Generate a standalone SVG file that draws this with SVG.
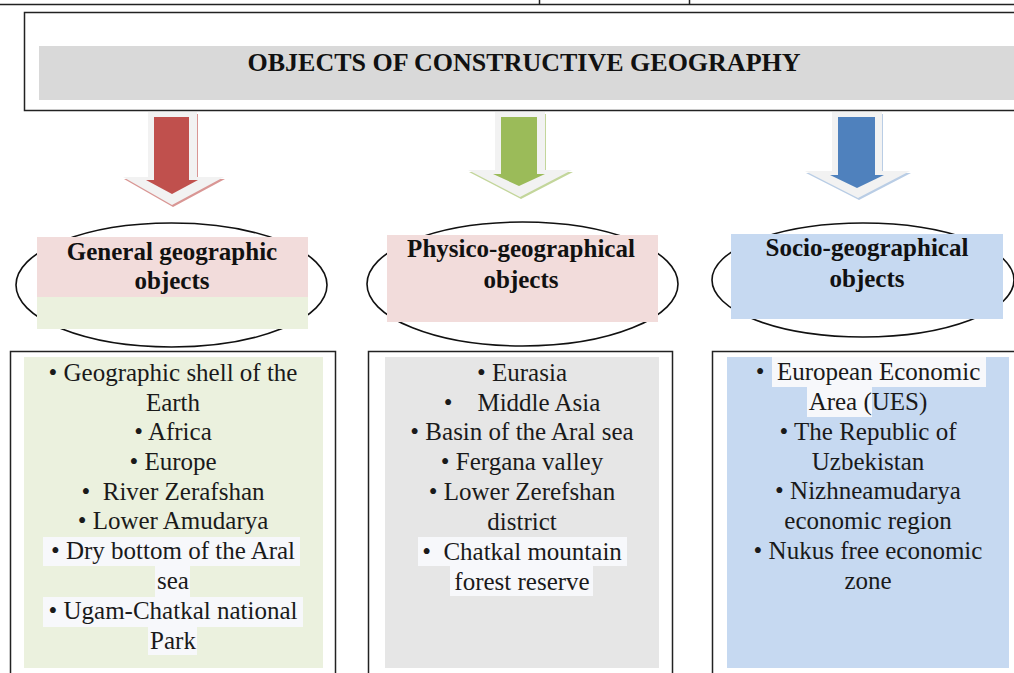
<svg xmlns="http://www.w3.org/2000/svg" width="1014" height="673" viewBox="0 0 1014 673">
<style>
.line{stroke:#222;stroke-width:1.5;fill:none}
.ell{fill:none;stroke:#111;stroke-width:1.6}
.hd{font-family:"Liberation Serif",serif;font-weight:bold;font-size:25px;fill:#111;text-anchor:middle}
.tt{font-family:"Liberation Serif",serif;font-weight:bold;font-size:26px;fill:#111;text-anchor:middle}
.bd{font-family:"Liberation Serif",serif;font-size:25px;fill:#1a1a1a;text-anchor:middle}
.hl{fill:#f7f8fb}
.aout{fill:#f2f2f2}
</style>
<rect width="1014" height="673" fill="#ffffff"/>
<g id="table-lines">
<line class="line" x1="0" y1="4.5" x2="1014" y2="4.5"/>
<line class="line" x1="539.5" y1="0" x2="539.5" y2="4.5"/>
<line class="line" x1="689.5" y1="0" x2="689.5" y2="4.5"/>
</g>
<g id="title">
<rect x="24.5" y="12.5" width="1000" height="98" fill="#ffffff" stroke="#222" stroke-width="1.5"/>
<rect x="39" y="46" width="980" height="54" fill="#d9d9d9"/>
<text class="tt" x="524" y="71">OBJECTS OF CONSTRUCTIVE GEOGRAPHY</text>
</g>
<g id="connectors">
<g id="arrow-red">
<polygon points="149,114 198,114 198,179 225,179 173,207 124,179 149,179" fill="#d99694"/>
<polygon class="aout" points="148,112 197,112 197,177 224,177 172,205 123,177 148,177"/>
<polygon points="154,117 189,117 189,180 198,180 172,194 146,180 154,180" fill="#c0504d"/>
</g>
<g id="arrow-green">
<polygon points="496,114 546,114 546,172 573,172 521,199 469,172 496,172" fill="#c3d69b"/>
<polygon class="aout" points="495,112 545,112 545,170 572,170 520,197 468,170 495,170"/>
<polygon points="501,117 537,117 537,174 545,174 519,186 493,174 501,174" fill="#9bbb59"/>
</g>
<g id="arrow-blue">
<polygon points="833,114 883,114 883,173 911,173 859,200 806,173 833,173" fill="#b9cde5"/>
<polygon class="aout" points="832,112 882,112 882,171 910,171 858,198 805,171 832,171"/>
<polygon points="838,117 875,117 875,175 884,175 857,188 830,175 838,175" fill="#4f81bd"/>
</g>
</g>
<g id="head-general">
<ellipse class="ell" cx="171.5" cy="285" rx="155.5" ry="62"/>
<rect x="37" y="237" width="271" height="60" fill="#f2dcdb"/>
<rect x="37" y="297" width="271" height="32" fill="#ebf1de"/>
<text class="hd" x="172" y="260">General geographic</text>
<text class="hd" x="172" y="289">objects</text>
</g>
<g id="head-physico">
<ellipse class="ell" cx="522.5" cy="284" rx="155.5" ry="62"/>
<rect x="387" y="235" width="271" height="87" fill="#f2dcdb"/>
<text class="hd" x="521" y="257">Physico-geographical</text>
<text class="hd" x="521" y="288">objects</text>
</g>
<g id="head-socio">
<ellipse class="ell" cx="863" cy="280" rx="151" ry="57"/>
<rect x="731" y="234" width="272" height="85" fill="#c6d9f1"/>
<text class="hd" x="867" y="256">Socio-geographical</text>
<text class="hd" x="867" y="287">objects</text>
</g>
<g id="list-general">
<rect x="10.5" y="351.5" width="325" height="330" fill="#ffffff" stroke="#222" stroke-width="1.5"/>
<rect x="24" y="357" width="299" height="311" fill="#ebf1de"/>
<rect class="hl" x="43" y="537" width="257" height="29"/>
<rect class="hl" x="155" y="566" width="35" height="31"/>
<rect class="hl" x="43" y="597" width="260" height="30"/>
<rect class="hl" x="148" y="627" width="49" height="28"/>
<text class="bd" x="173" y="381">• Geographic shell of the</text>
<text class="bd" x="173" y="411">Earth</text>
<text class="bd" x="173" y="440">• Africa</text>
<text class="bd" x="173" y="470">• Europe</text>
<text class="bd" x="173" y="500" xml:space="preserve">•  River Zerafshan</text>
<text class="bd" x="173" y="529">• Lower Amudarya</text>
<text class="bd" x="173" y="559">• Dry bottom of the Aral</text>
<text class="bd" x="173" y="589">sea</text>
<text class="bd" x="173" y="619">• Ugam-Chatkal national</text>
<text class="bd" x="173" y="649">Park</text>
</g>
<g id="list-physico">
<rect x="368.5" y="351.5" width="304" height="330" fill="#ffffff" stroke="#222" stroke-width="1.5"/>
<rect x="385" y="357" width="274" height="311" fill="#e6e6e6"/>
<rect class="hl" x="418" y="537" width="209" height="29"/>
<rect class="hl" x="450" y="566" width="143" height="30"/>
<text class="bd" x="522" y="381">• Eurasia</text>
<text class="bd" x="522" y="411" xml:space="preserve">•    Middle Asia</text>
<text class="bd" x="522" y="440">• Basin of the Aral sea</text>
<text class="bd" x="522" y="470">• Fergana valley</text>
<text class="bd" x="522" y="500">• Lower Zerefshan</text>
<text class="bd" x="522" y="530">district</text>
<text class="bd" x="522" y="560" xml:space="preserve">•  Chatkal mountain</text>
<text class="bd" x="522" y="590">forest reserve</text>
</g>
<g id="list-socio">
<rect x="712.5" y="351.5" width="320" height="330" fill="#ffffff" stroke="#222" stroke-width="1.5"/>
<rect x="727" y="357" width="282" height="311" fill="#c6d9f1"/>
<rect class="hl" x="772" y="357" width="214" height="30"/>
<rect class="hl" x="807" y="387" width="65" height="30"/>
<text class="bd" x="868" y="380" xml:space="preserve">•  European Economic</text>
<text class="bd" x="868" y="410">Area (UES)</text>
<text class="bd" x="868" y="440">• The Republic of</text>
<text class="bd" x="868" y="470">Uzbekistan</text>
<text class="bd" x="868" y="499">• Nizhneamudarya</text>
<text class="bd" x="868" y="529">economic region</text>
<text class="bd" x="868" y="559">• Nukus free economic</text>
<text class="bd" x="868" y="589">zone</text>
</g>
</svg>
